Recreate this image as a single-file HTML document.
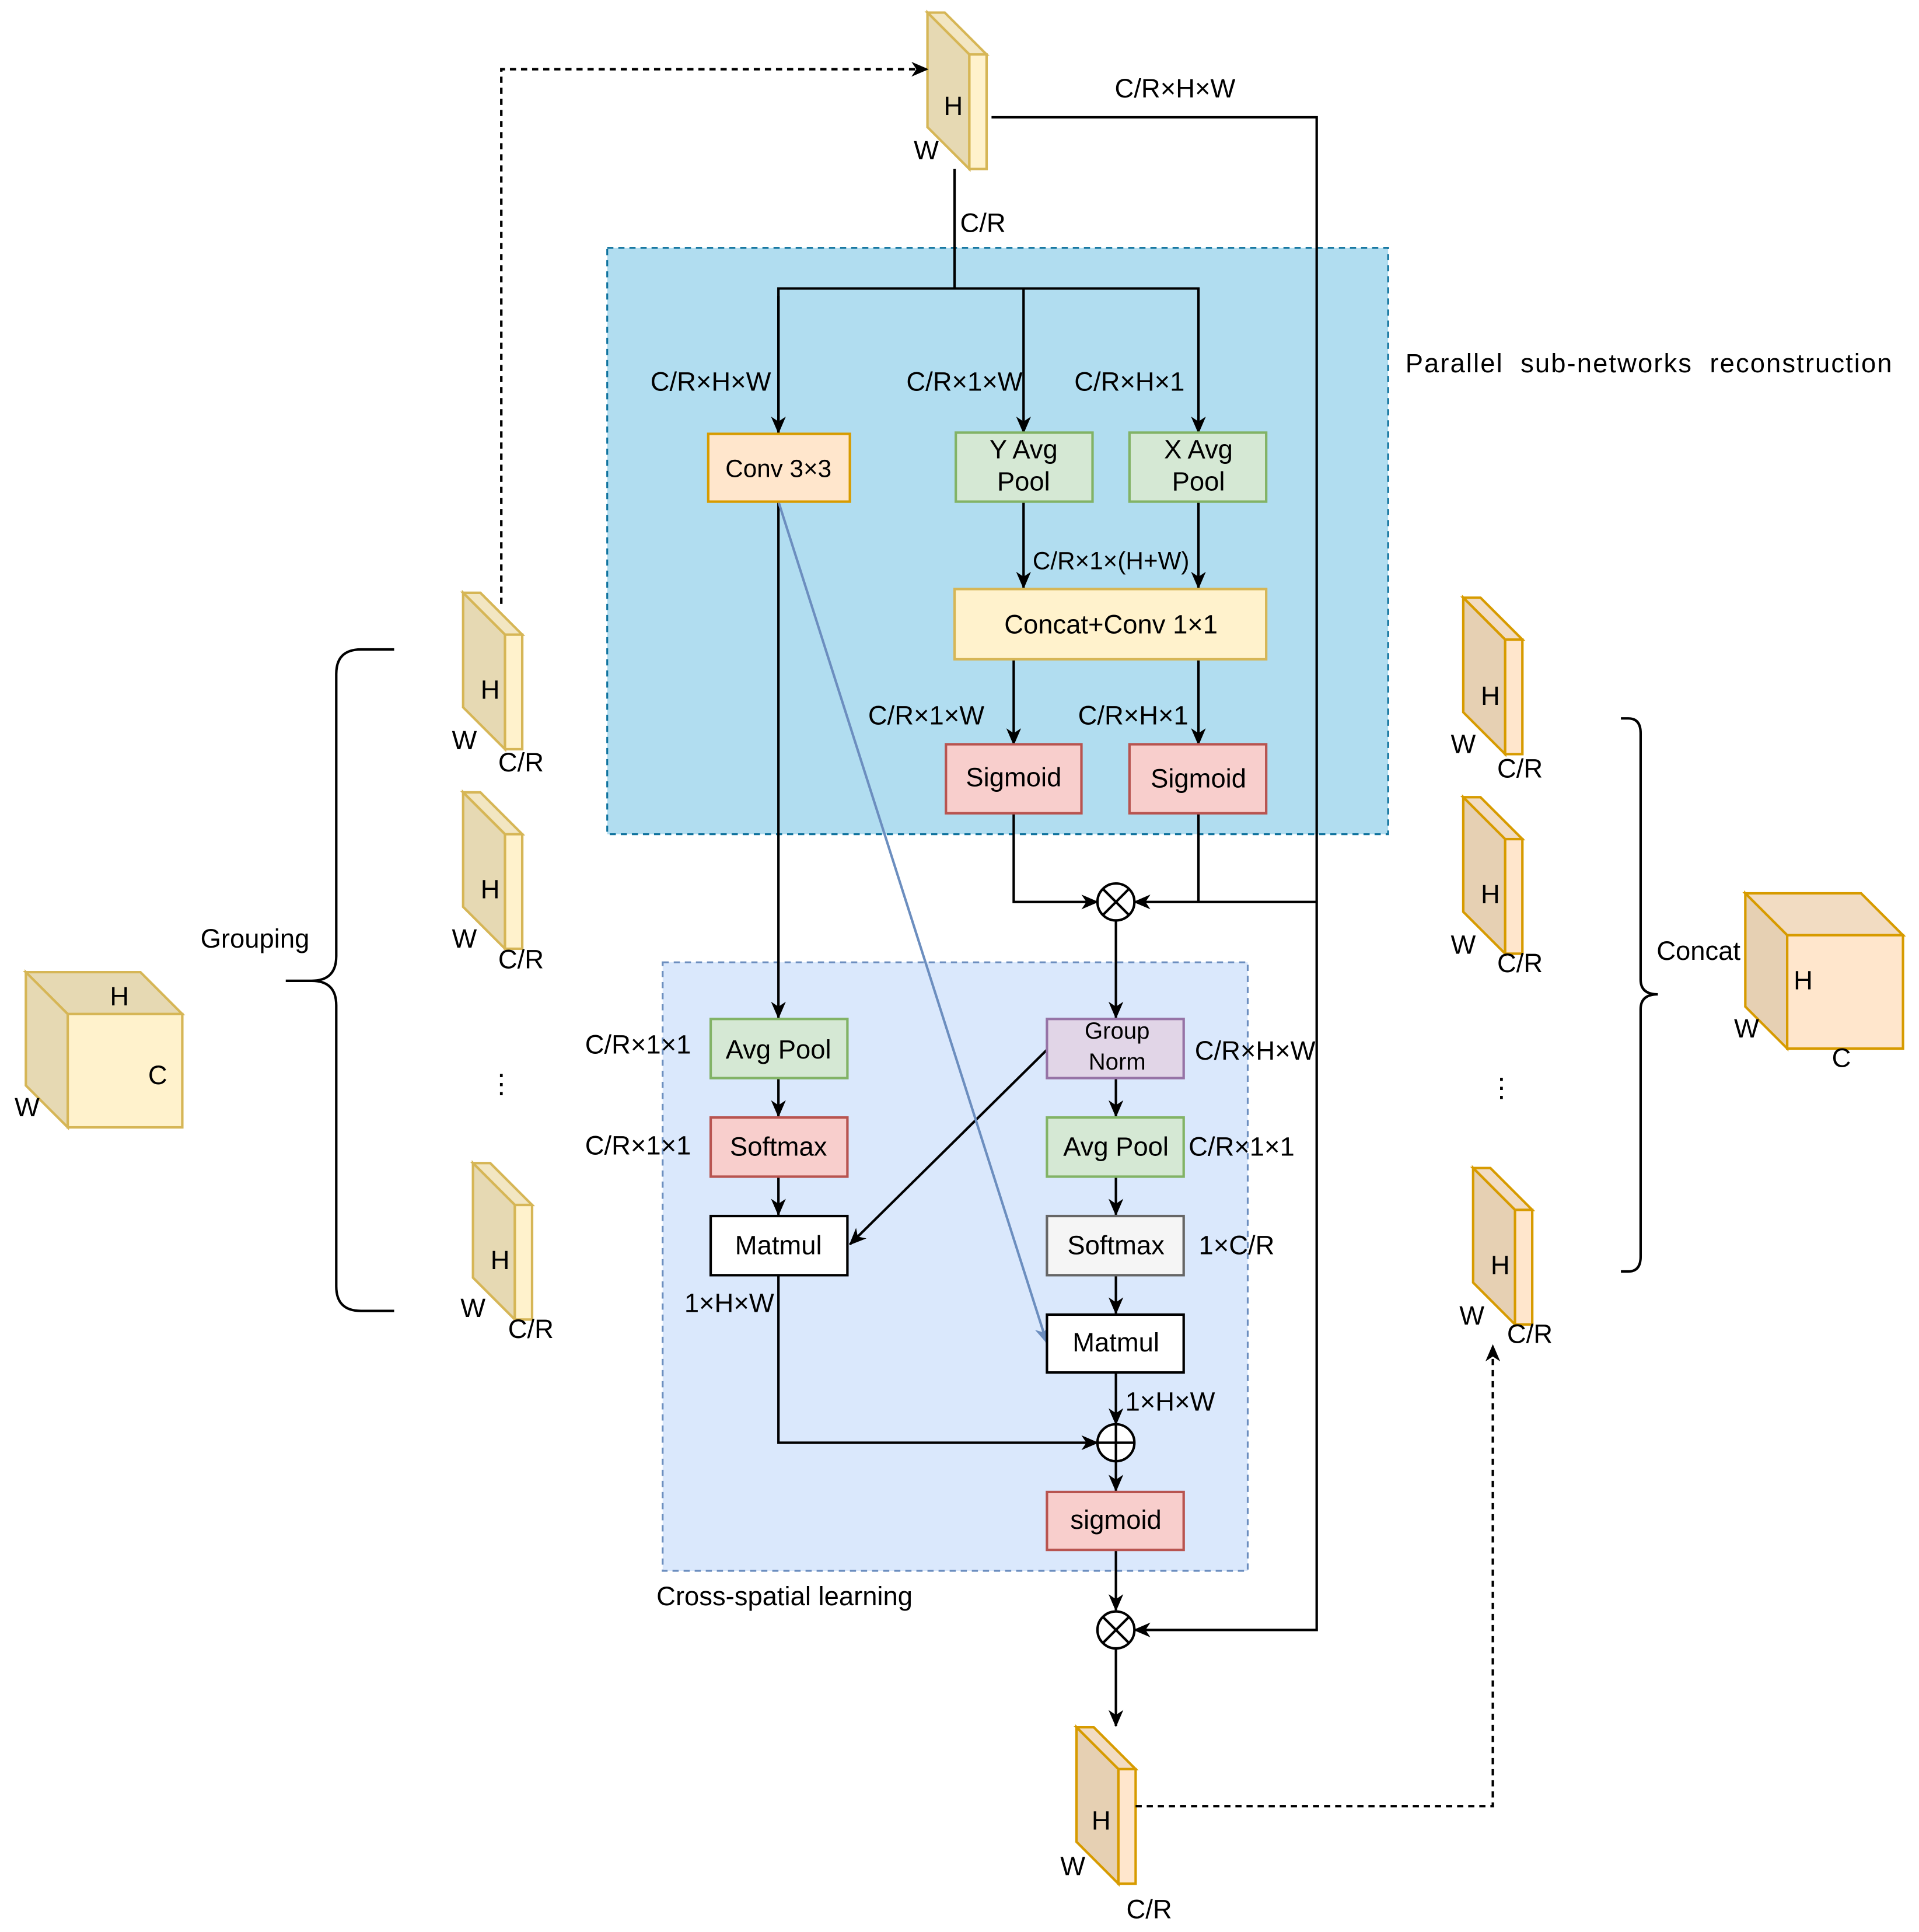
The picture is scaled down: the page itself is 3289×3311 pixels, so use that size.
<!DOCTYPE html>
<html><head><meta charset="utf-8"><style>
html,body{margin:0;padding:0;background:#fff}
svg{display:block}
text{font-family:"Liberation Sans",Arial,sans-serif;fill:#000}
</style></head><body>
<svg width="3289" height="3311" viewBox="0 0 1558 1568" xmlns="http://www.w3.org/2000/svg">
<defs>
<marker id="a" markerWidth="14" markerHeight="12" refX="13" refY="6" orient="auto" markerUnits="userSpaceOnUse">
<path d="M0,0 L14,6 L0,12 L4,6 Z" fill="#000"/></marker>
<marker id="ab" markerWidth="14" markerHeight="12" refX="13" refY="6" orient="auto" markerUnits="userSpaceOnUse">
<path d="M0,0 L14,6 L0,12 L4,6 Z" fill="#6c8ebf"/></marker>
<g id="sy">
<polygon points="0,0 14,0 48,34 34,34" fill="#f2e6c2" stroke="#d6b656" stroke-width="2"/>
<polygon points="0,0 34,34 34,127 0,93" fill="#e6d9b3" stroke="#d6b656" stroke-width="2"/>
<rect x="34" y="34" width="14" height="93" fill="#fff2cc" stroke="#d6b656" stroke-width="2"/>
</g>
<g id="so">
<polygon points="0,0 14,0 48,34 34,34" fill="#f2dcc2" stroke="#d79b00" stroke-width="2"/>
<polygon points="0,0 34,34 34,127 0,93" fill="#e6d0b3" stroke="#d79b00" stroke-width="2"/>
<rect x="34" y="34" width="14" height="93" fill="#ffe6cc" stroke="#d79b00" stroke-width="2"/>
</g>
</defs>
<g font-size="21.5" text-anchor="middle">
<rect x="493" y="201" width="634" height="476" fill="#b1ddf0" stroke="#10739e" stroke-width="1.5" stroke-dasharray="5,4"/>
<rect x="538" y="781" width="475" height="494" fill="#dae8fc" stroke="#6c8ebf" stroke-width="1.5" stroke-dasharray="5,4"/>
<text x="1141" y="302" text-anchor="start" textLength="395" lengthAdjust="spacing" xml:space="preserve">Parallel  sub-networks  reconstruction</text>
<text x="533" y="1303" text-anchor="start">Cross-spatial learning</text>

<use href="#sy" x="753" y="10"/>
<text x="774" y="93">H</text><text x="752" y="129">W</text>
<use href="#sy" x="376" y="481"/>
<text x="398" y="567">H</text><text x="377" y="608">W</text><text x="423" y="626">C/R</text>
<use href="#sy" x="376" y="643"/>
<text x="398" y="729">H</text><text x="377" y="769">W</text><text x="423" y="786">C/R</text>
<text x="407" y="887">⋮</text>
<use href="#sy" x="384" y="944"/>
<text x="406" y="1030">H</text><text x="384" y="1069">W</text><text x="431" y="1086">C/R</text>

<use href="#so" x="1188" y="485"/>
<text x="1210" y="572">H</text><text x="1188" y="611">W</text><text x="1234" y="631">C/R</text>
<use href="#so" x="1188" y="647"/>
<text x="1210" y="733">H</text><text x="1188" y="774">W</text><text x="1234" y="789">C/R</text>
<text x="1219" y="890">⋮</text>
<use href="#so" x="1196" y="948"/>
<text x="1218" y="1034">H</text><text x="1195" y="1075">W</text><text x="1242" y="1090">C/R</text>
<use href="#so" x="874" y="1402"/>
<text x="894" y="1485">H</text><text x="871" y="1522">W</text><text x="933" y="1557">C/R</text>

<polygon points="21,789 114,789 148,823 55,823" fill="#e6d9b3" stroke="#d6b656" stroke-width="2"/>
<polygon points="21,789 55,823 55,915 21,881" fill="#e6d9b3" stroke="#d6b656" stroke-width="2"/>
<rect x="55" y="823" width="93" height="92" fill="#fff2cc" stroke="#d6b656" stroke-width="2"/>
<text x="97" y="816">H</text><text x="128" y="880">C</text><text x="22" y="906">W</text>
<polygon points="1417,725 1511,725 1545,759 1451,759" fill="#f2dcc2" stroke="#d79b00" stroke-width="2"/>
<polygon points="1417,725 1451,759 1451,851 1417,817" fill="#e6d0b3" stroke="#d79b00" stroke-width="2"/>
<rect x="1451" y="759" width="94" height="92" fill="#ffe6cc" stroke="#d79b00" stroke-width="2"/>
<text x="1464" y="803">H</text><text x="1418" y="842">W</text><text x="1495" y="866">C</text>

<path d="M320,527 L293,527 Q273,527 273,547 L273,776 Q273,796 253,796 L232,796 M253,796 Q273,796 273,816 L273,1044 Q273,1064 293,1064 L320,1064" fill="none" stroke="#000" stroke-width="2"/>
<path d="M1316,583 L1322,583 Q1332,583 1332,595 L1332,795 Q1332,807 1346,807 M1346,807 Q1332,807 1332,819 L1332,1020 Q1332,1032 1322,1032 L1316,1032" fill="none" stroke="#000" stroke-width="2"/>
<text x="207" y="769">Grouping</text>
<text x="1379" y="779">Concat</text>

<g fill="none" stroke="#000" stroke-width="2">
<polyline points="775,137 775,234"/>
<polyline points="632,351 632,234 973,234 973,351" marker-end="url(#a)"/>
<line x1="632" y1="240" x2="632" y2="351" marker-end="url(#a)"/>
<line x1="831" y1="234" x2="831" y2="351" marker-end="url(#a)"/>
<line x1="831" y1="407" x2="831" y2="477" marker-end="url(#a)"/>
<line x1="973" y1="407" x2="973" y2="477" marker-end="url(#a)"/>
<line x1="823" y1="535" x2="823" y2="604" marker-end="url(#a)"/>
<line x1="973" y1="535" x2="973" y2="604" marker-end="url(#a)"/>
<polyline points="823,660 823,732 891,732" marker-end="url(#a)"/>
<polyline points="973,660 973,732"/>
<polyline points="805,95 1069,95 1069,1323 921,1323" marker-end="url(#a)"/>
<line x1="1069" y1="732" x2="921" y2="732" marker-end="url(#a)"/>
<line x1="906" y1="747" x2="906" y2="826" marker-end="url(#a)"/>
<line x1="632" y1="407" x2="632" y2="826" marker-end="url(#a)"/>
<line x1="632" y1="875" x2="632" y2="906" marker-end="url(#a)"/>
<line x1="632" y1="955" x2="632" y2="986" marker-end="url(#a)"/>
<polyline points="632,1035 632,1171 891,1171" marker-end="url(#a)"/>
<line x1="850" y1="852" x2="690" y2="1010" marker-end="url(#a)"/>
<line x1="906" y1="875" x2="906" y2="906" marker-end="url(#a)"/>
<line x1="906" y1="955" x2="906" y2="986" marker-end="url(#a)"/>
<line x1="906" y1="1035" x2="906" y2="1066" marker-end="url(#a)"/>
<line x1="906" y1="1114" x2="906" y2="1156" marker-end="url(#a)"/>
<line x1="906" y1="1186" x2="906" y2="1210" marker-end="url(#a)"/>
<line x1="906" y1="1258" x2="906" y2="1307" marker-end="url(#a)"/>
<line x1="906" y1="1338" x2="906" y2="1401" marker-end="url(#a)"/>
<polyline points="922,1466 1212,1466 1212,1092" stroke-dasharray="5,4" marker-end="url(#a)"/>
<polyline points="407,490 407,56 753,56" stroke-dasharray="5,4" marker-end="url(#a)"/>
</g>
<line x1="632" y1="407" x2="850" y2="1090" stroke="#6c8ebf" stroke-width="2" marker-end="url(#ab)"/>

<g fill="#fff" stroke="#000" stroke-width="2">
<circle cx="906" cy="732" r="15"/><circle cx="906" cy="1171" r="15"/><circle cx="906" cy="1323" r="15"/>
</g>
<g stroke="#000" stroke-width="2">
<line x1="895" y1="721" x2="917" y2="743"/><line x1="917" y1="721" x2="895" y2="743"/>
<line x1="895" y1="1312" x2="917" y2="1334"/><line x1="917" y1="1312" x2="895" y2="1334"/>
<line x1="891" y1="1171" x2="921" y2="1171"/><line x1="906" y1="1156" x2="906" y2="1186"/>
</g>

<g stroke-width="2">
<rect x="575" y="352" width="115" height="55" fill="#ffe6cc" stroke="#d79b00"/>
<rect x="776" y="351" width="111" height="56" fill="#d5e8d4" stroke="#82b366"/>
<rect x="917" y="351" width="111" height="56" fill="#d5e8d4" stroke="#82b366"/>
<rect x="775" y="478" width="253" height="57" fill="#fff2cc" stroke="#d6b656"/>
<rect x="768" y="604" width="110" height="56" fill="#f8cecc" stroke="#b85450"/>
<rect x="917" y="604" width="111" height="56" fill="#f8cecc" stroke="#b85450"/>
<rect x="577" y="827" width="111" height="48" fill="#d5e8d4" stroke="#82b366"/>
<rect x="577" y="907" width="111" height="48" fill="#f8cecc" stroke="#b85450"/>
<rect x="577" y="987" width="111" height="48" fill="#fff" stroke="#000"/>
<rect x="850" y="827" width="111" height="48" fill="#e1d5e7" stroke="#9673a6"/>
<rect x="850" y="907" width="111" height="48" fill="#d5e8d4" stroke="#82b366"/>
<rect x="850" y="987" width="111" height="48" fill="#f5f5f5" stroke="#666"/>
<rect x="850" y="1067" width="111" height="47" fill="#fff" stroke="#000"/>
<rect x="850" y="1211" width="111" height="47" fill="#f8cecc" stroke="#b85450"/>
</g>
<text x="632" y="387" font-size="20">Conv 3×3</text>
<text x="831" y="372">Y Avg</text><text x="831" y="398">Pool</text>
<text x="973" y="372">X Avg</text><text x="973" y="398">Pool</text>
<text x="902" y="514">Concat+Conv 1×1</text>
<text x="823" y="638">Sigmoid</text><text x="973" y="639">Sigmoid</text>
<text x="632" y="859">Avg Pool</text><text x="632" y="938">Softmax</text><text x="632" y="1018">Matmul</text>
<text x="907" y="843" font-size="19">Group</text><text x="907" y="868" font-size="19">Norm</text>
<text x="906" y="938">Avg Pool</text><text x="906" y="1018">Softmax</text><text x="906" y="1097">Matmul</text>
<text x="906" y="1241">sigmoid</text>

<text x="954" y="79">C/R×H×W</text>
<text x="798" y="188">C/R</text>
<text x="577" y="317">C/R×H×W</text>
<text x="783" y="317">C/R×1×W</text>
<text x="917" y="317">C/R×H×1</text>
<text x="902" y="462" font-size="20">C/R×1×(H+W)</text>
<text x="752" y="588">C/R×1×W</text>
<text x="920" y="588">C/R×H×1</text>
<text x="518" y="855">C/R×1×1</text>
<text x="518" y="937">C/R×1×1</text>
<text x="592" y="1065">1×H×W</text>
<text x="1019" y="860">C/R×H×W</text>
<text x="1008" y="938">C/R×1×1</text>
<text x="1004" y="1018">1×C/R</text>
<text x="950" y="1145">1×H×W</text>
</g>
</svg>
</body></html>
